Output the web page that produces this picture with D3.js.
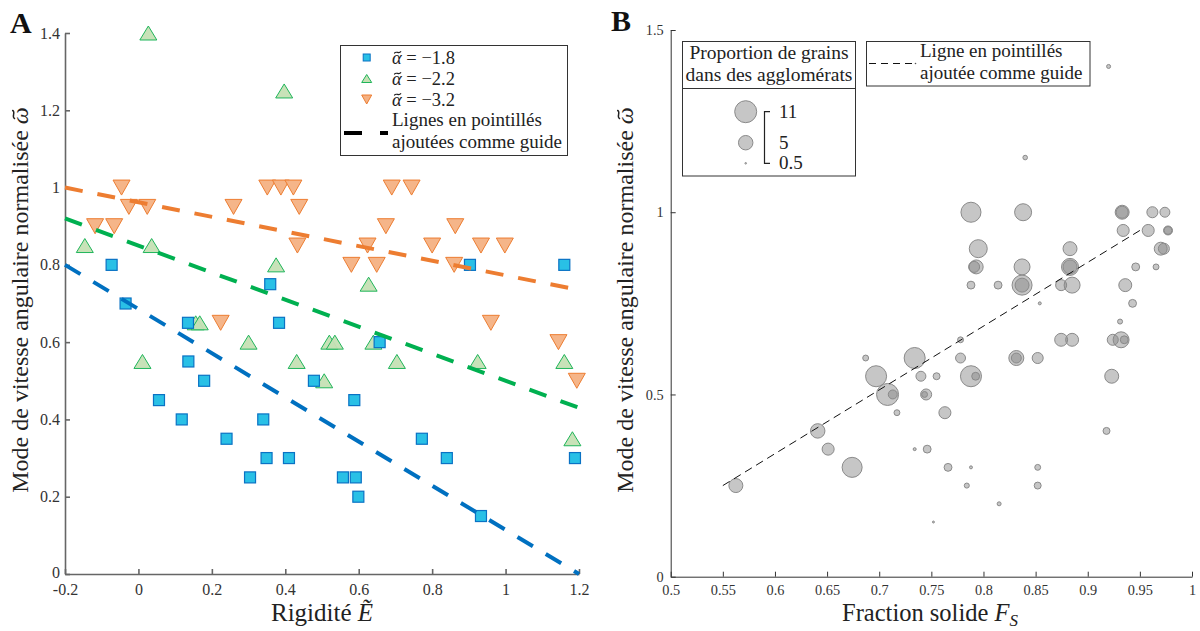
<!DOCTYPE html>
<html><head><meta charset="utf-8">
<script src="https://cdn.jsdelivr.net/npm/d3@7"></script>
<style>
html,body{margin:0;padding:0;background:#fff;}
svg{display:block;font-family:"Liberation Serif","DejaVu Serif",serif;}
</style></head>
<body>
<svg id="c" width="1200" height="631"></svg>
<script>
// ---------- Panel A data ----------
const blueE = [-0.073,-0.035,0.056,0.118,0.135,0.136,0.179,0.24,0.304,0.34,0.349,0.359,0.383,0.41,0.478,0.557,0.588,0.592,0.599,0.657,0.772,0.84,0.903,0.933,1.16,1.189];
const blueW = [0.80,0.70,0.45,0.40,0.65,0.55,0.50,0.35,0.25,0.40,0.30,0.75,0.65,0.30,0.50,0.25,0.45,0.25,0.20,0.60,0.35,0.30,0.80,0.15,0.80,0.30];
const greenE = [-0.146,0.011,0.027,0.036,0.156,0.167,0.30,0.375,0.397,0.431,0.506,0.52,0.535,0.627,0.64,0.704,0.924,1.16,1.182];
const greenW = [0.85,0.55,1.40,0.85,0.65,0.65,0.60,0.80,1.25,0.55,0.50,0.60,0.60,0.75,0.60,0.55,0.55,0.55,0.35];
const orangeE = [-0.118,-0.066,-0.046,-0.026,0.024,0.224,0.259,0.351,0.388,0.422,0.438,0.433,0.58,0.624,0.649,0.674,0.69,0.744,0.80,0.86,0.863,0.933,0.96,0.998,1.144,1.194];
const orangeW = [0.90,0.90,1.00,0.95,0.95,0.65,0.95,1.00,1.00,1.00,0.95,0.85,0.80,0.85,0.80,0.90,1.00,1.00,0.85,0.80,0.90,0.85,0.65,0.85,0.60,0.50];
const guideE = [-0.2, 1.2];
const guideBlue = [0.80, 0.0];
const guideGreen = [0.92, 0.43];
const guideOrange = [1.0, 0.735];
const xTicksA = [-0.2,0,0.2,0.4,0.6,0.8,1,1.2];
const yTicksA = [0,0.2,0.4,0.6,0.8,1,1.2,1.4];
const legendA = ["−1.8","−2.2","−3.2"];

// ---------- Panel B data ----------
const fracFs = [0.5625,0.641,0.651,0.674,0.687,0.697,0.708,0.713,0.717,0.734,0.734,0.740,0.745,0.7435,0.746,0.752,0.755,0.763,0.766,0.778,0.778,0.784,0.788,0.788,0.788,0.7925,0.788,0.795,0.793,0.791,0.814,0.815,0.8315,0.8315,0.838,0.840,0.837,0.837,0.837,0.852,0.852,0.852,0.854,0.8745,0.8745,0.883,0.883,0.883,0.885,0.885,0.918,0.92,0.923,0.924,0.931,0.932,0.935,0.933,0.933,0.934,0.936,0.943,0.946,0.958,0.962,0.9655,0.970,0.973,0.974,0.977,0.977];
const omegaB = [0.25,0.40,0.35,0.30,0.60,0.55,0.50,0.50,0.45,0.60,0.35,0.55,0.50,0.50,0.35,0.15,0.55,0.45,0.30,0.65,0.60,0.25,1.00,0.80,0.55,0.55,0.30,0.90,0.85,0.85,0.80,0.20,0.60,0.60,1.00,1.15,0.85,0.80,0.80,0.60,0.30,0.25,0.75,0.80,0.65,0.90,0.85,0.85,0.80,0.65,0.40,1.40,0.55,0.65,0.70,0.65,0.65,1.00,1.00,0.95,0.80,0.75,0.85,0.95,1.00,0.85,0.90,0.90,1.00,0.95,0.95];
const clusterP = [4.7,5.0,3.6,9.2,1.2,10.1,11,2.2,1.2,10.1,0.64,2.6,3.1,1.2,1.8,0.53,1.5,3.6,1.8,1.2,2.6,1.0,9.2,1.8,10.1,1.8,0.64,7.5,4.7,3.1,1.8,0.79,5.35,2.6,6.75,0.9,6.0,9.2,4.7,3.1,1.2,1.5,0.64,3.1,4.1,4.7,6.75,4.7,6.0,4.1,1.5,0.79,4.7,3.1,0.99,6.0,1.8,4.7,3.6,3.6,4.1,1.8,1.8,3.6,3.1,1.2,4.1,3.1,2.6,2.2,1.8];
const guideBFs = [0.55, 0.95];
const guideBW = [0.25, 0.95];
const xTicksB = [0.5,0.55,0.6,0.65,0.7,0.75,0.8,0.85,0.9,0.95,1];
const yTicksB = [0,0.5,1,1.5];
const sizeLegend = [11,5,0.5];

const svg = d3.select("#c");
const fmt = d => String(+d.toFixed(2));
const axisCol = "#666";
const TXT = "#222";

// draw a tilde accent (as a small curve) over the first occurrence of ch in a text element
function addTilde(textSel, ch, fs, shift){
  const n = textSel.node();
  const i = n.textContent.indexOf(ch);
  if (i < 0) return;
  const ext = n.getExtentOfChar(i);
  const p = n.getStartPositionOfChar(i);
  const cx = ext.x + ext.width/2 + (shift||0)*fs;
  const cy = p.y - 0.6*fs;
  const a = 0.17*fs, b = 0.04*fs;
  const t = d3.select(n.parentNode).append("path")
    .attr("d", `M${cx-a},${cy+b}C${cx-a*0.4},${cy-b*2.6} ${cx+a*0.4},${cy+b*2.6} ${cx+a},${cy-b}`)
    .attr("fill","none").attr("stroke",TXT).attr("stroke-width",0.06*fs).attr("stroke-linecap","round");
  if (textSel.attr("transform")) t.attr("transform", textSel.attr("transform"));
}

// ================= Panel A =================
const xA = d3.scaleLinear().domain([-0.2,1.2]).range([65,579]);
const yA = d3.scaleLinear().domain([0,1.4]).range([574,33]);
const gA = svg.append("g");

function styleAxis(g, col, fs, w){
  g.selectAll(".domain").attr("stroke",col).attr("stroke-width",w);
  g.selectAll(".tick line").attr("stroke",col).attr("stroke-width",w);
  g.selectAll(".tick text").attr("fill","#333").style("font-family",'"Liberation Serif",serif').style("font-size",fs+"px");
}
const axA_x = gA.append("g").attr("transform","translate(0,574)")
  .call(d3.axisBottom(xA).tickValues(xTicksA).tickFormat(d=>fmt(d).replace("−","-")).tickSizeInner(-5).tickSizeOuter(0).tickPadding(10));
styleAxis(axA_x, axisCol, 16, 1.6);
const axA_y = gA.append("g").attr("transform","translate(65,0)")
  .call(d3.axisLeft(yA).tickValues(yTicksA).tickFormat(fmt).tickSizeInner(-5).tickSizeOuter(0).tickPadding(5));
styleAxis(axA_y, axisCol, 16, 1.6);
axA_y.selectAll(".tick").filter(d=>d===0).select("text").attr("dy","0.2em");

function triPath(w,h,down){
  const s = down ? -1 : 1;
  return `M0,${-s*h/2}L${w/2},${s*h/2}L${-w/2},${s*h/2}Z`;
}
const blueData = blueE.map((e,i)=>({e,w:blueW[i]}));
const greenData = greenE.map((e,i)=>({e,w:greenW[i]}));
const orangeData = orangeE.map((e,i)=>({e,w:orangeW[i]}));

gA.append("g").selectAll("path").data(orangeData).join("path")
  .attr("d",triPath(17,15,true))
  .attr("transform",d=>`translate(${xA(d.e)},${yA(d.w)})`)
  .attr("fill","#f4b183").attr("stroke","#ed7d31").attr("stroke-width",1).attr("fill-opacity",0.95);
gA.append("g").selectAll("path").data(greenData).join("path")
  .attr("d",triPath(17,14,false))
  .attr("transform",d=>`translate(${xA(d.e)},${yA(d.w)})`)
  .attr("fill","#c5e0b4").attr("stroke","#1fb55a").attr("stroke-width",1).attr("fill-opacity",0.95);
gA.append("g").selectAll("rect").data(blueData).join("rect")
  .attr("x",d=>xA(d.e)-5.5).attr("y",d=>yA(d.w)-5.5).attr("width",11).attr("height",11)
  .attr("fill","#29c0e6").attr("stroke","#0a72c4").attr("stroke-width",1.2);

const lineA = d3.line().x(d=>xA(d[0])).y(d=>yA(d[1]));
[[guideOrange,"#ed7d31"],[guideGreen,"#00b050"],[guideBlue,"#0070c0"]].forEach(([vals,col])=>{
  gA.append("path").attr("d",lineA(guideE.map((e,i)=>[e,vals[i]])))
    .attr("fill","none").attr("stroke",col).attr("stroke-width",4).attr("stroke-dasharray","18,15");
});

// axis titles A
gA.append("text").attr("x",322).attr("y",621).attr("text-anchor","middle")
  .style("font-size","25px").attr("fill",TXT)
  .html('Rigidité <tspan font-style="italic">Ẽ</tspan>');
const yTitleA = gA.append("text").attr("transform","translate(28,300) rotate(-90)").attr("text-anchor","middle")
  .style("font-size","24px").attr("fill",TXT)
  .html('Mode de vitesse angulaire normalisée <tspan font-style="italic">ω</tspan>');
addTilde(yTitleA, "ω", 24, 0.05);
svg.append("text").attr("x",10).attr("y",33).style("font-size","30px").style("font-weight","bold").attr("fill","#111").text("A");

// legend A
const lg = gA.append("g");
lg.append("rect").attr("x",340.5).attr("y",45.5).attr("width",227).attr("height",110).attr("fill","#fff").attr("stroke","#333").attr("stroke-width",1);
const lgY = [57.5,78.5,99.5];
lg.append("rect").attr("x",366.7-3.5).attr("y",lgY[0]-3.5).attr("width",7).attr("height",7).attr("fill","#29c0e6").attr("stroke","#0a72c4");
lg.append("path").attr("d",triPath(10,8,false)).attr("transform",`translate(366.7,${lgY[1]})`).attr("fill","#c5e0b4").attr("stroke","#1fb55a");
lg.append("path").attr("d",triPath(10,9,true)).attr("transform",`translate(366.7,${lgY[2]})`).attr("fill","#f4b183").attr("stroke","#ed7d31");
legendA.forEach((v,i)=>{
  const t = lg.append("text").attr("x",392).attr("y",lgY[i]+6).style("font-size","18.5px").attr("fill",TXT)
    .html(`<tspan font-style="italic">α</tspan> = ${v}`);
  addTilde(t, "α", 18.5, 0.04);
});
lg.append("text").attr("x",392).attr("y",126).style("font-size","19px").attr("fill",TXT).text("Lignes en pointillés");
lg.append("text").attr("x",392).attr("y",148).style("font-size","19px").attr("fill",TXT).text("ajoutées comme guide");
lg.append("line").attr("x1",344).attr("x2",388).attr("y1",133).attr("y2",133).attr("stroke","#000").attr("stroke-width",4).attr("stroke-dasharray","18,18");

// ================= Panel B =================
const xB = d3.scaleLinear().domain([0.5,1]).range([670.7,1192]);
const yB = d3.scaleLinear().domain([0,1.5]).range([576.7,30]);
const gB = svg.append("g");
const axB_x = gB.append("g").attr("transform","translate(0,576.7)")
  .call(d3.axisBottom(xB).tickValues(xTicksB).tickFormat(fmt).tickSizeInner(-5).tickSizeOuter(0).tickPadding(8));
styleAxis(axB_x, "#333", 14.3, 1);
const axB_y = gB.append("g").attr("transform","translate(670.7,0)")
  .call(d3.axisLeft(yB).tickValues(yTicksB).tickFormat(fmt).tickSizeInner(-5).tickSizeOuter(0).tickPadding(7));
styleAxis(axB_y, "#333", 14.3, 1);

const rB = v => Math.sqrt(d3.scaleLinear().domain([0.5,11]).range([0.64,121])(v));
const bData = fracFs.map((f,i)=>({f,w:omegaB[i],p:clusterP[i]}));
gB.append("g").selectAll("circle").data(bData).join("circle")
  .attr("cx",d=>xB(d.f)).attr("cy",d=>yB(d.w)).attr("r",d=>rB(d.p))
  .attr("fill","#888").attr("fill-opacity",0.48).attr("stroke","#8a8a8a").attr("stroke-width",1);

const lineB = d3.line().x(d=>xB(d[0])).y(d=>yB(d[1]));
gB.append("path").attr("d",lineB(guideBFs.map((f,i)=>[f,guideBW[i]])))
  .attr("fill","none").attr("stroke","#111").attr("stroke-width",1).attr("stroke-dasharray","8,5");

gB.append("text").attr("x",930).attr("y",621).attr("text-anchor","middle")
  .style("font-size","24.5px").attr("fill",TXT)
  .html('Fraction solide <tspan font-style="italic">F</tspan><tspan font-style="italic" font-size="17px" dy="5">S</tspan>');
const yTitleB = gB.append("text").attr("transform","translate(633,300) rotate(-90)").attr("text-anchor","middle")
  .style("font-size","24px").attr("fill",TXT)
  .html('Mode de vitesse angulaire normalisée <tspan font-style="italic">ω</tspan>');
addTilde(yTitleB, "ω", 24, 0.05);
svg.append("text").attr("x",611).attr("y",31).style("font-size","30px").style("font-weight","bold").attr("fill","#111").text("B");

// legend B1 (bubble sizes)
const l1 = gB.append("g");
l1.append("rect").attr("x",682.5).attr("y",41.5).attr("width",173).attr("height",134.5).attr("fill","#fff").attr("stroke","#333");
l1.append("line").attr("x1",682.5).attr("x2",855.5).attr("y1",88.5).attr("y2",88.5).attr("stroke","#333");
l1.append("text").attr("x",769).attr("y",59).attr("text-anchor","middle").style("font-size","19.5px").attr("fill",TXT).text("Proportion de grains");
l1.append("text").attr("x",769).attr("y",81).attr("text-anchor","middle").style("font-size","19.5px").attr("fill",TXT).text("dans des agglomérats");
const lyB = [111.7,142.7,163.3];
sizeLegend.forEach((v,i)=>{
  l1.append("circle").attr("cx",745.7).attr("cy",lyB[i]).attr("r",rB(v))
    .attr("fill","#888").attr("fill-opacity",0.48).attr("stroke","#8a8a8a");
  l1.append("text").attr("x",779).attr("y",lyB[i]+6).style("font-size","19px").attr("fill",TXT).text(fmt(v));
});
l1.append("path").attr("d",`M770,${lyB[0]}H764.5V${lyB[2]}H770`).attr("fill","none").attr("stroke","#222").attr("stroke-width",1.2);

// legend B2 (guide line)
const l2 = gB.append("g");
l2.append("rect").attr("x",866.5).attr("y",41.5).attr("width",223.5).attr("height",44.5).attr("fill","#fff").attr("stroke","#333");
l2.append("line").attr("x1",869).attr("x2",912).attr("y1",63.5).attr("y2",63.5).attr("stroke","#111").attr("stroke-width",1).attr("stroke-dasharray","7,5");
l2.append("circle").attr("cx",915.5).attr("cy",63.5).attr("r",0.8).attr("fill","#555");
l2.append("text").attr("x",920).attr("y",57).style("font-size","19px").attr("fill",TXT).text("Ligne en pointillés");
l2.append("text").attr("x",920).attr("y",79).style("font-size","19px").attr("fill",TXT).text("ajoutée comme guide");
</script>
</body></html>
